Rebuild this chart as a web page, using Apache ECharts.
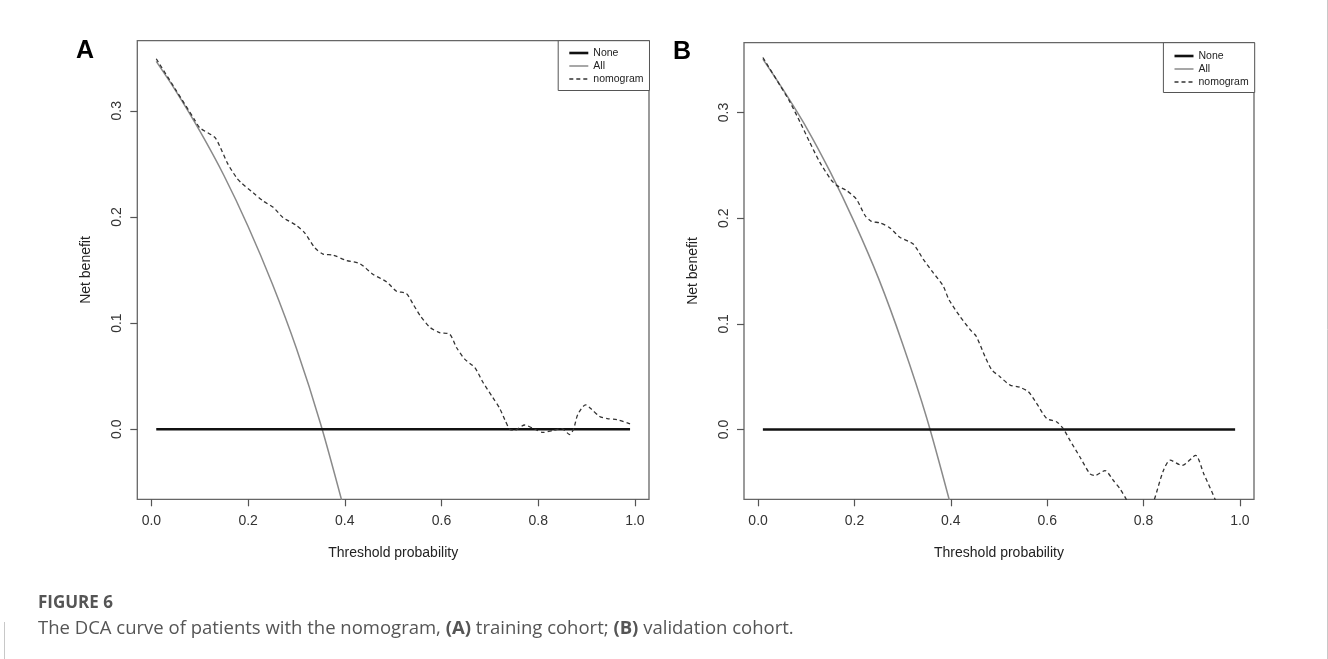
<!DOCTYPE html>
<html>
<head>
<meta charset="utf-8">
<script src="https://cdn.jsdelivr.net/npm/echarts@6/dist/echarts.min.js"></script>
<style>
html,body{margin:0;padding:0;background:#fff;}
#chart{width:1328px;height:659px;}
</style>
</head>
<body>
<div id="chart"></div>
<script>
// ---------- DATA ----------
const xTicks = [0, 0.2, 0.4, 0.6, 0.8, 1.0];
const yTicks = [0, 0.1, 0.2, 0.3];
const seriesNames = ['None', 'All', 'nomogram'];

// Panel A (training cohort)
const ptA_none = [0.01, 0.99];
const nbA_none = [0, 0];
const ptA_all = [0.01, 0.05, 0.10, 0.15, 0.20, 0.25, 0.30, 0.35, 0.40];
const nbA_all = [0.3465, 0.319, 0.281, 0.239, 0.191, 0.137, 0.076, 0.005, -0.078];
const ptA_nom = [0.01, 0.05, 0.09, 0.10, 0.131, 0.141, 0.158, 0.176, 0.186, 0.21, 0.231, 0.252, 0.272, 0.30, 0.317, 0.338, 0.355, 0.376, 0.403, 0.431, 0.458, 0.486, 0.507, 0.527, 0.541, 0.556, 0.576, 0.596, 0.617, 0.631, 0.648, 0.669, 0.686, 0.706, 0.72, 0.731, 0.741, 0.751, 0.772, 0.793, 0.81, 0.831, 0.849, 0.865, 0.873, 0.882, 0.898, 0.91, 0.927, 0.943, 0.963, 0.99];
const nbA_nom = [0.349, 0.320, 0.291, 0.284, 0.275, 0.267, 0.250, 0.237, 0.232, 0.223, 0.215, 0.209, 0.1995, 0.192, 0.185, 0.171, 0.165, 0.164, 0.159, 0.156, 0.146, 0.139, 0.130, 0.128, 0.118, 0.107, 0.096, 0.091, 0.0895, 0.077, 0.066, 0.058, 0.044, 0.030, 0.020, 0.009, 0.000, -0.001, 0.004, 0.000, -0.003, -0.001, 0.0006, -0.005, 0.000, 0.014, 0.023, 0.019, 0.012, 0.010, 0.009, 0.005];

// Panel B (validation cohort)
const ptB_none = [0.01, 0.99];
const nbB_none = [0, 0];
const ptB_all = [0.01, 0.05, 0.10, 0.15, 0.20, 0.25, 0.30, 0.35, 0.40];
const nbB_all = [0.3505, 0.323, 0.286, 0.2435, 0.196, 0.143, 0.081, 0.011, -0.072];
const ptB_nom = [0.01, 0.045, 0.066, 0.087, 0.107, 0.128, 0.152, 0.163, 0.184, 0.204, 0.222, 0.235, 0.253, 0.273, 0.294, 0.322, 0.343, 0.363, 0.384, 0.396, 0.419, 0.44, 0.453, 0.471, 0.485, 0.502, 0.523, 0.543, 0.561, 0.578, 0.599, 0.62, 0.633, 0.647, 0.668, 0.689, 0.699, 0.72, 0.737, 0.751, 0.765, 0.78, 0.795, 0.81, 0.822, 0.841, 0.855, 0.88, 0.908, 0.925, 0.949, 0.97, 0.99];
const nbB_nom = [0.352, 0.326, 0.310, 0.291, 0.272, 0.253, 0.236, 0.231, 0.226, 0.218, 0.2025, 0.197, 0.1955, 0.191, 0.182, 0.1755, 0.161, 0.1486, 0.136, 0.123, 0.107, 0.0946, 0.088, 0.069, 0.0565, 0.050, 0.042, 0.040, 0.0358, 0.0248, 0.0105, 0.0072, 0.001, -0.010, -0.026, -0.042, -0.0435, -0.0388, -0.048, -0.056, -0.0667, -0.080, -0.086, -0.080, -0.0667, -0.039, -0.029, -0.034, -0.0245, -0.042, -0.0667, -0.095, -0.12];

const panelLabels = ['A', 'B'];
const xName = 'Threshold probability';
const yName = 'Net benefit';
const captionHead = 'FIGURE 6';
const captionText = 'The DCA curve of patients with the nomogram, {b|(A)} training cohort; {b|(B)} validation cohort.';

// ---------- STYLE / LAYOUT ----------
const rFont = "'Liberation Sans', Arial, sans-serif";
const capFont = "'Open Sans', 'Noto Sans', sans-serif";
const grids = [
  {left: 137.3, top: 40.7, width: 511.7, height: 458.6},
  {left: 744, top: 42.7, width: 510, height: 456.6}
];
const xRange = [-0.0292, 1.0292];
const yRange = [-0.066, 0.366];

function pairs(xs, ys) { return xs.map((x, i) => [x, ys[i]]); }

const option = {
  animation: false,
  backgroundColor: '#ffffff',
  title: [
    {text: panelLabels[0], left: 71, top: 34, textStyle: {fontFamily: rFont, fontWeight: 'bold', fontSize: 25, color: '#000'}},
    {text: panelLabels[1], left: 668, top: 35, textStyle: {fontFamily: rFont, fontWeight: 'bold', fontSize: 25, color: '#000'}},
    {text: captionHead, left: 33, top: 590, textStyle: {fontFamily: capFont, fontWeight: 'bold', fontSize: 17, color: '#555'}},
    {text: captionText, left: 33, top: 614, textStyle: {fontFamily: capFont, fontWeight: 'normal', fontSize: 18.5, color: '#555',
      rich: {b: {fontFamily: capFont, fontWeight: 'bold', fontSize: 18.5, color: '#555'}}}}
  ],
  graphic: [
    {type: 'line', shape: {x1: 1327.5, y1: 0, x2: 1327.5, y2: 659}, style: {stroke: '#c8c8c8', lineWidth: 1}, silent: true},
    {type: 'line', shape: {x1: 4.5, y1: 622, x2: 4.5, y2: 659}, style: {stroke: '#c8c8c8', lineWidth: 1}, silent: true}
  ],
  legend: [0, 1].map(i => ({
    data: seriesNames,
    orient: 'vertical',
    left: i === 0 ? 558.2 : 1163.4,
    top: i === 0 ? 40.7 : 42.7,
    padding: i === 0 ? [5.8, 6, 5, 9.8] : [6.8, 6, 4, 9.8],
    itemWidth: 19,
    itemHeight: 13,
    itemGap: 0,
    selectedMode: false,
    borderColor: '#555',
    borderWidth: 1,
    backgroundColor: '#fff',
    itemStyle: {opacity: 0},
    lineStyle: {width: 'inherit'},
    textStyle: {fontFamily: rFont, fontSize: 10.5, color: '#222', width: 46, lineHeight: 13},
    z: 10
  })),
  grid: grids.map(g => Object.assign({show: true, borderColor: '#666', borderWidth: 1.3, backgroundColor: 'transparent', containLabel: false}, g)),
  xAxis: [0, 1].map(i => ({
    type: 'value', gridIndex: i, min: xRange[0], max: xRange[1],
    name: xName, nameLocation: 'middle', nameGap: 47,
    nameTextStyle: {fontFamily: rFont, fontSize: 14, color: '#222'},
    axisLine: {show: false, onZero: false},
    axisTick: {show: true, inside: false, length: 7, customValues: xTicks, lineStyle: {color: '#555', width: 1.2}},
    axisLabel: {show: true, margin: 15, customValues: xTicks, fontFamily: rFont, fontSize: 14, color: '#333', formatter: v => v.toFixed(1)},
    splitLine: {show: false}
  })),
  yAxis: [0, 1].map(i => ({
    type: 'value', gridIndex: i, min: yRange[0], max: yRange[1],
    name: yName, nameLocation: 'middle', nameGap: 44, nameRotate: 90,
    nameTextStyle: {fontFamily: rFont, fontSize: 14, color: '#222'},
    axisLine: {show: false, onZero: false},
    axisTick: {show: true, inside: false, length: 7, customValues: yTicks, lineStyle: {color: '#555', width: 1.2}},
    axisLabel: {show: true, margin: 13, rotate: 90, customValues: yTicks, fontFamily: rFont, fontSize: 14, color: '#333', formatter: v => v.toFixed(1)},
    splitLine: {show: false}
  })),
  series: []
};

const panels = [
  {none: pairs(ptA_none, nbA_none), all: pairs(ptA_all, nbA_all), nom: pairs(ptA_nom, nbA_nom)},
  {none: pairs(ptB_none, nbB_none), all: pairs(ptB_all, nbB_all), nom: pairs(ptB_nom, nbB_nom)}
];
panels.forEach((p, i) => {
  option.series.push(
    {name: seriesNames[0], type: 'line', xAxisIndex: i, yAxisIndex: i, data: p.none, symbol: 'none', clip: true,
      lineStyle: {color: '#111', width: 2.6}, itemStyle: {color: '#111'}, z: 3},
    {name: seriesNames[1], type: 'line', xAxisIndex: i, yAxisIndex: i, data: p.all, symbol: 'none', clip: true, smooth: 0.3,
      lineStyle: {color: '#8a8a8a', width: 1.5}, itemStyle: {color: '#8a8a8a'}, z: 2},
    {name: seriesNames[2], type: 'line', xAxisIndex: i, yAxisIndex: i, data: p.nom, symbol: 'none', clip: true, smooth: 0.25,
      lineStyle: {color: '#333', width: 1.3, type: [4, 3]}, itemStyle: {color: '#333'}, z: 4}
  );
});

const chart = echarts.init(document.getElementById('chart'), null, {renderer: 'canvas'});
chart.setOption(option);
</script>
</body>
</html>
